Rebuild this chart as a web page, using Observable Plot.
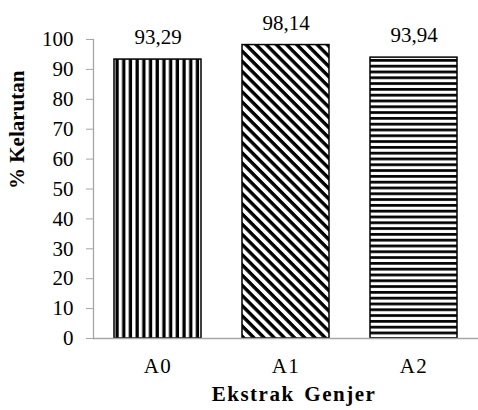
<!DOCTYPE html>
<html>
<head>
<meta charset="utf-8">
<script src="https://cdn.jsdelivr.net/npm/d3@7"></script>
<script src="https://cdn.jsdelivr.net/npm/@observablehq/plot@0.6"></script>
<style>
  html, body { margin: 0; padding: 0; background: #fff; }
  #chart svg, #chart svg text, #chart svg g { font-family: "Liberation Serif", "DejaVu Serif", serif !important; }
</style>
</head>
<body>
<div id="chart"></div>
<script>
const categories = ["A0", "A1", "A2"];
const values = [93.29, 98.14, 93.94];
const valueLabels = ["93,29", "98,14", "93,94"];
const yTicks = [0, 10, 20, 30, 40, 50, 60, 70, 80, 90, 100];
const patterns = ["url(#pv)", "url(#pd)", "url(#ph)"];
const yTitle = "% Kelarutan";
const xTitle = "Ekstrak Genjer";

const data = categories.map((c, i) => ({cat: c, value: values[i], label: valueLabels[i]}));

const axisColor = "#a6a6a6";

const chart = Plot.plot({
  width: 478,
  height: 410,
  marginLeft: 93,
  marginRight: 0,
  marginTop: 39,
  marginBottom: 72,
  style: {fontFamily: "'Liberation Serif', serif", fontSize: "21px", color: "#000", background: "#fff"},
  x: {domain: categories, paddingInner: 0.32, paddingOuter: 0.16, label: null},
  y: {domain: [0, 100], label: null},
  color: {domain: categories, range: patterns},
  marks: [
    Plot.barY(data, {x: "cat", y: "value", fill: "cat", stroke: "#000", strokeWidth: 1.5}),
    Plot.frame({anchor: "left", stroke: axisColor, strokeWidth: 1.3}),
    Plot.ruleY([0], {stroke: axisColor, strokeWidth: 1.3}),
    Plot.axisY(yTicks, {tickSize: 7, tickPadding: 13, stroke: axisColor, fill: "#000", label: null, fontSize: 21, fontVariant: "normal"}),
    Plot.axisX({tickSize: 0, tickPadding: 20, fill: "#000", label: null, fontSize: 21, fontVariant: "normal"}),
    Plot.text(data, {x: "cat", y: "value", text: "label", dy: -22, fill: "#000", fontSize: 21}),
    Plot.text([yTitle], {frameAnchor: "left", dx: -76, rotate: -90, fontWeight: "bold", fontSize: 21, fill: "#000"}),
    Plot.text([xTitle], {frameAnchor: "bottom", dy: 62, dx: 8, fontWeight: "bold", fontSize: 21, fill: "#000"})
  ]
});

const svg = d3.select(chart);
svg.selectAll("text, g").style("font-family", "'Liberation Serif', serif", "important");
svg.selectAll("text").filter(function() { return this.textContent === xTitle; })
  .style("letter-spacing", "1.5px").style("word-spacing", "3px");
svg.selectAll("text").filter(function() { return /^A\d$/.test(this.textContent); })
  .style("letter-spacing", "1.5px");
const defs = svg.insert("defs", ":first-child");
// vertical stripes
const pv = defs.append("pattern").attr("id", "pv").attr("patternUnits", "userSpaceOnUse")
  .attr("width", 6.7).attr("height", 10);
pv.append("rect").attr("width", 6.7).attr("height", 10).attr("fill", "#fff");
pv.append("rect").attr("x", 1.5).attr("width", 3.3).attr("height", 10).attr("fill", "#000");
// diagonal stripes
const pd = defs.append("pattern").attr("id", "pd").attr("patternUnits", "userSpaceOnUse")
  .attr("width", 10).attr("height", 7.2).attr("patternTransform", "rotate(45)");
pd.append("rect").attr("width", 10).attr("height", 7.2).attr("fill", "#fff");
pd.append("rect").attr("y", 0).attr("width", 10).attr("height", 3.4).attr("fill", "#000");
// horizontal stripes
const ph = defs.append("pattern").attr("id", "ph").attr("patternUnits", "userSpaceOnUse")
  .attr("width", 10).attr("height", 5.8);
ph.append("rect").attr("width", 10).attr("height", 5.8).attr("fill", "#fff");
ph.append("rect").attr("y", 1).attr("width", 10).attr("height", 2.7).attr("fill", "#000");

document.getElementById("chart").appendChild(chart);
</script>
</body>
</html>
